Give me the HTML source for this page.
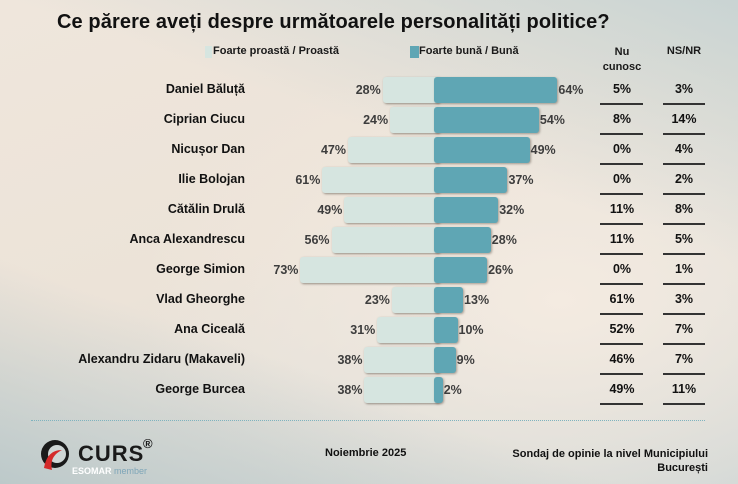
<!DOCTYPE html>
<html><head><meta charset="utf-8"><style>
*{margin:0;padding:0;box-sizing:border-box}
body{width:738px;height:484px;overflow:hidden;position:relative;font-family:"Liberation Sans",sans-serif;font-weight:bold;color:#1a1a1a;
background:radial-gradient(ellipse 420px 260px at 560px 300px,#f4ebe1 0%,rgba(244,235,225,0) 100%),
linear-gradient(160deg,#efe6dc 0%,#ece3d8 45%,#e6e1d9 60%,#cfd6d5 100%);}
.bg2{position:absolute;left:0;top:0;width:738px;height:484px;background:linear-gradient(200deg,#c9d4d3 0%,rgba(220,224,220,0) 35%),linear-gradient(20deg,#bcc9ca 0%,rgba(200,210,210,0) 30%);}
.a{position:absolute;white-space:nowrap}
.title{left:57px;top:11px;font-size:20px;color:#111;letter-spacing:0.1px}
.leg{font-size:11px;top:45px}
.name{right:493px;font-size:12.5px;text-align:right;color:#111}
.l{position:absolute;height:26px;background:#d6e5e0;border-radius:3px;box-shadow:1px 1px 2px rgba(90,80,70,.6)}
.b{position:absolute;height:26px;background:#5fa6b4;border-radius:3px;box-shadow:1px 1px 2px rgba(90,80,70,.5)}
.pl{font-size:12.5px;color:#3d3d3d;text-align:right}
.pr{font-size:12.5px;color:#3d3d3d}
.v{font-size:12.5px;width:44px;text-align:center;color:#111}
.u{position:absolute;height:1.5px;background:#333}
</style></head><body>
<div class="bg2"></div>
<div class="a title">Ce părere aveți despre următoarele personalități politice?</div>
<div class="a" style="left:205px;top:46px;width:7px;height:12px;background:#d6e5e0"></div>
<div class="a leg" style="left:213px">Foarte proastă / Proastă</div>
<div class="a" style="left:410px;top:46px;width:9px;height:12px;background:#5fa6b4"></div>
<div class="a leg" style="left:419px">Foarte bună / Bună</div>
<div class="a leg" style="left:600px;width:44px;text-align:center;line-height:15px">Nu<br>cunosc</div>
<div class="a leg" style="left:662px;width:44px;text-align:center">NS/NR</div>

<div id="rows"></div>
<script>
var d=[["Daniel Băluță",28,64,5,3],["Ciprian Ciucu",24,54,8,14],["Nicușor Dan",47,49,0,4],["Ilie Bolojan",61,37,0,2],["Cătălin Drulă",49,32,11,8],["Anca Alexandrescu",56,28,11,5],["George Simion",73,26,0,1],["Vlad Gheorghe",23,13,61,3],["Ana Ciceală",31,10,52,7],["Alexandru Zidaru (Makaveli)",38,9,46,7],["George Burcea",38,2,49,11]];
var h="";
d.forEach(function(r,i){var t=77+30*i;var L=434-1.83*r[1];var W=5+1.85*r[2];
h+='<div class="a name" style="top:'+(t+5)+'px">'+r[0]+'</div>';
h+='<div class="l" style="left:'+L+'px;top:'+t+'px;width:'+(440-L)+'px"></div>';
h+='<div class="b" style="left:434px;top:'+t+'px;width:'+W+'px"></div>';
h+='<div class="a pl" style="right:'+(738-L+2)+'px;top:'+(t+6)+'px">'+r[1]+'%</div>';
h+='<div class="a pr" style="left:'+(434+W+1)+'px;top:'+(t+6)+'px">'+r[2]+'%</div>';
h+='<div class="a v" style="left:600px;top:'+(t+5)+'px">'+r[3]+'%</div>';
h+='<div class="a v" style="left:662px;top:'+(t+5)+'px">'+r[4]+'%</div>';
h+='<div class="u" style="left:600px;width:43px;top:'+(t+26)+'px"></div>';
h+='<div class="u" style="left:663px;width:42px;top:'+(t+26)+'px"></div>';
});
document.getElementById("rows").innerHTML=h;
</script>
<div class="a" style="left:31px;top:420px;width:674px;border-top:1.5px dotted #7fb3bf"></div>
<svg class="a" style="left:38px;top:438px" width="34" height="34" viewBox="0 0 34 34">
<circle cx="17" cy="16" r="14" fill="#1a1a1a"/><circle cx="19" cy="16" r="9" fill="#cfd6d5"/>
<path d="M6 30 C8 18 14 12 24 12 C16 16 12 22 14 32 Z" fill="#d42a2a"/></svg>
<div class="a" style="left:78px;top:441px;font-size:22px;color:#1a1a1a;letter-spacing:1px">CURS</div>
<div class="a" style="left:143px;top:436px;font-size:13px">®</div>
<div class="a" style="left:72px;top:466px;font-size:9px;color:#fff">ESOMAR <span style="color:#7fa6b8;font-weight:normal">member</span></div>
<div class="a" style="left:325px;top:447px;font-size:11px;color:#111">Noiembrie 2025</div>
<div class="a" style="right:30px;top:447px;font-size:11px;text-align:right;line-height:14px;color:#111">Sondaj de opinie la nivel Municipiului<br>București</div>
</body></html>
